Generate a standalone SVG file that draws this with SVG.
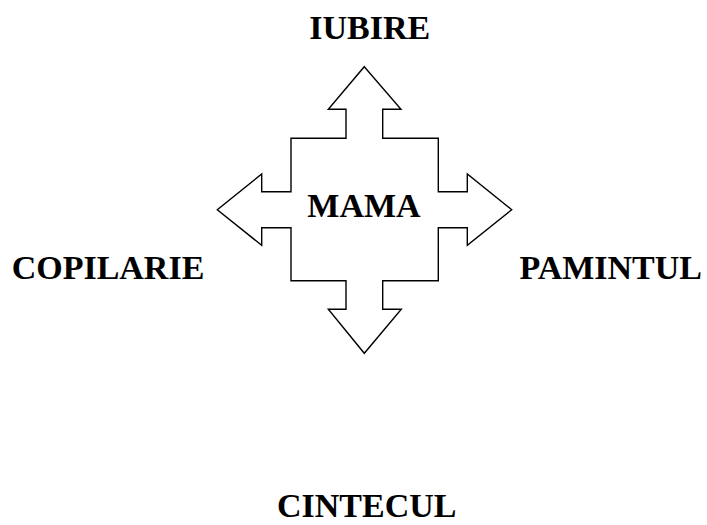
<svg xmlns="http://www.w3.org/2000/svg" width="707" height="525" viewBox="0 0 707 525">
<style>
.t{font-family:"Liberation Serif","Times New Roman",serif;font-weight:bold;font-size:34px;fill:#000}
.s{fill:#fff;stroke:#000;stroke-width:1.4;stroke-linejoin:miter}
</style>
<rect width="707" height="525" fill="#fff"/>
<g id="connectors">
<path class="s" d="M364.3,66.7 L401,109.3 L382.7,109.3 L382.7,138.3 L438.3,138.3 L438.3,191.7 L467.3,191.7 L467.3,174 L511.7,209.7 L467.3,245.3 L467.3,227.7 L438.3,227.7 L438.3,280.7 L382.7,280.7 L382.7,309.3 L401.3,309.3 L364.3,353.3 L328.3,309.3 L346,309.3 L346,280.7 L291,280.7 L291,227.7 L261.7,227.7 L261.7,245.3 L217.3,209.7 L261.7,174 L261.7,191.7 L291,191.7 L291,138.3 L346,138.3 L346,109.3 L328.3,109.3 Z"/>
</g>
<g id="mama"><text class="t" x="364" y="216.7" text-anchor="middle">MAMA</text></g>
<g id="iubire"><text class="t" x="369.7" y="39.3" text-anchor="middle">IUBIRE</text></g>
<g id="copilarie"><text class="t" x="108" y="279.3" text-anchor="middle">COPILARIE</text></g>
<g id="pamintul"><text class="t" x="610.7" y="279.3" text-anchor="middle">PAMINTUL</text></g>
<g id="cintecul"><text class="t" x="366.7" y="516.7" text-anchor="middle">CINTECUL</text></g>
</svg>
